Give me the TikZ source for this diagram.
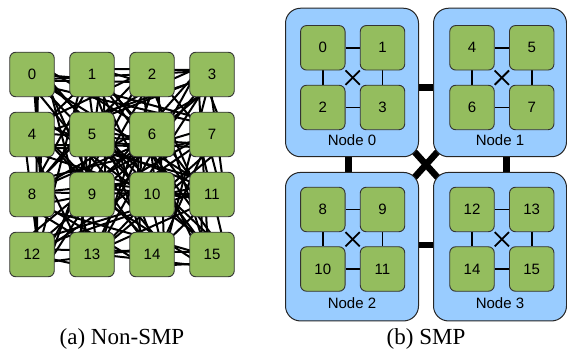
\documentclass[tikz,border=0pt]{standalone}
\usepackage{fontspec}
\setmainfont{Liberation Serif}
\newfontfamily\labelfont{Liberation Sans}
\definecolor{coreg}{HTML}{94BD5E}
\definecolor{smpblue}{HTML}{99CCFF}
\pgfdeclarelayer{links}
\pgfdeclarelayer{boxes}
\pgfdeclarelayer{edges}
\pgfsetlayers{links,boxes,edges,main}
\begin{document}
\begin{tikzpicture}[x=1pt,y=-1pt,
  core/.style={draw=black!80, fill=coreg, rounded corners=6pt, minimum width=44.5pt,
    minimum height=44.5pt, inner sep=0pt, line width=0.9pt,
    font=\labelfont\fontsize{15}{17}\selectfont},
  smpbox/.style={draw=black!85, fill=smpblue, rounded corners=15pt, minimum width=133pt,
    minimum height=148.5pt, inner sep=0pt, line width=1pt},
  boxlabel/.style={font=\labelfont\fontsize{15}{17}\selectfont, inner sep=0pt},
  mesh/.style={line width=2pt, black},
  inner/.style={line width=1.8pt, black},
  link/.style={line width=6.5pt, black},
  caption/.style={font=\fontsize{23}{26}\selectfont, inner sep=0pt}]
\useasboundingbox (0,0) rectangle (567,355);

% ---------- (a) Non-SMP ----------
\foreach \i in {0,...,15} {
  \pgfmathtruncatemacro\c{mod(\i,4)}
  \pgfmathtruncatemacro\r{div(\i,4)}
  \node[core] (a\i) at ({32+60*\c},{74.5+60*\r}) {\i};
}
\pgfmathsetseed{11}
\begin{pgfonlayer}{edges}
\foreach \i in {0,...,14} {
  \pgfmathtruncatemacro\s{\i+1}
  \foreach \j in {\s,...,15} {
    \pgfmathtruncatemacro\ci{mod(\i,4)}
    \pgfmathtruncatemacro\ri{div(\i,4)}
    \pgfmathtruncatemacro\cj{mod(\j,4)}
    \pgfmathtruncatemacro\rj{div(\j,4)}
    \pgfmathsetmacro\dxa{(\ri==\rj) ? 0 : 15*rand}
    \pgfmathsetmacro\dya{(\ci==\cj) ? 0 : 15*rand}
    \pgfmathsetmacro\dxb{(\ri==\rj) ? 0 : 15*rand}
    \pgfmathsetmacro\dyb{(\ci==\cj) ? 0 : 15*rand}
    \draw[mesh] ([shift={(\dxa pt,\dya pt)}]a\i.center) -- ([shift={(\dxb pt,\dyb pt)}]a\j.center);
  }
}
\end{pgfonlayer}

% ---------- (b) SMP ----------
\begin{pgfonlayer}{boxes}
\node[smpbox] (b0) at (352,82.5) {};
\node[smpbox] (b1) at (500,82.5) {};
\node[smpbox] (b2) at (352,246.7) {};
\node[smpbox] (b3) at (500,246.7) {};
\end{pgfonlayer}
\node[boxlabel] (l0) at (352,140) {Node 0};
\node[boxlabel] (l1) at (500,140) {Node 1};
\node[boxlabel] (l2) at (352,303.5) {Node 2};
\node[boxlabel] (l3) at (500,303.5) {Node 3};

\begin{pgfonlayer}{links}
\draw[link] ([yshift=-4.8pt]b0.east) -- ([yshift=-4.8pt]b1.west);
\draw[link] ([yshift=1.7pt]b2.east) -- ([yshift=1.7pt]b3.west);
\draw[link] ([xshift=-3.7pt]b0.south) -- ([xshift=-3.7pt]b2.north);
\draw[link] ([xshift=6.5pt]b1.south) -- ([xshift=6.5pt]b3.north);
\draw[link] (b0.center) -- (b3.center);
\draw[link] (b1.center) -- (b2.center);
\end{pgfonlayer}

% inner cores
\node[core] (c0)  at (322.8,47.8)  {0};
\node[core] (c1)  at (382.5,47.8)  {1};
\node[core] (c2)  at (322.8,107.5) {2};
\node[core] (c3)  at (382.5,107.5) {3};
\node[core] (c4)  at (472,47.8)    {4};
\node[core] (c5)  at (531.7,47.8)  {5};
\node[core] (c6)  at (472,107.5)   {6};
\node[core] (c7)  at (531.7,107.5) {7};
\node[core] (c8)  at (322.8,209.5) {8};
\node[core] (c9)  at (382.5,209.5) {9};
\node[core] (c10) at (322.8,269)   {10};
\node[core] (c11) at (382.5,269)   {11};
\node[core] (c12) at (472,209.5)   {12};
\node[core] (c13) at (531.7,209.5) {13};
\node[core] (c14) at (472,269)     {14};
\node[core] (c15) at (531.7,269)   {15};

\begin{pgfonlayer}{edges}
\foreach \a/\b/\c/\d in {0/1/2/3,4/5/6/7,8/9/10/11,12/13/14/15} {
  \draw[inner] (c\a) -- (c\b);
  \draw[inner] (c\c) -- (c\d);
  \draw[inner] (c\a) -- (c\c);
  \draw[inner] (c\b) -- (c\d);
  \draw[inner] (c\a) -- (c\d);
  \draw[inner] (c\b) -- (c\c);
}
\end{pgfonlayer}

% captions
\node[caption] (capa) at (122,339) {(a) Non-SMP};
\node[caption] (capb) at (426,339) {(b) SMP};
\end{tikzpicture}
\end{document}
